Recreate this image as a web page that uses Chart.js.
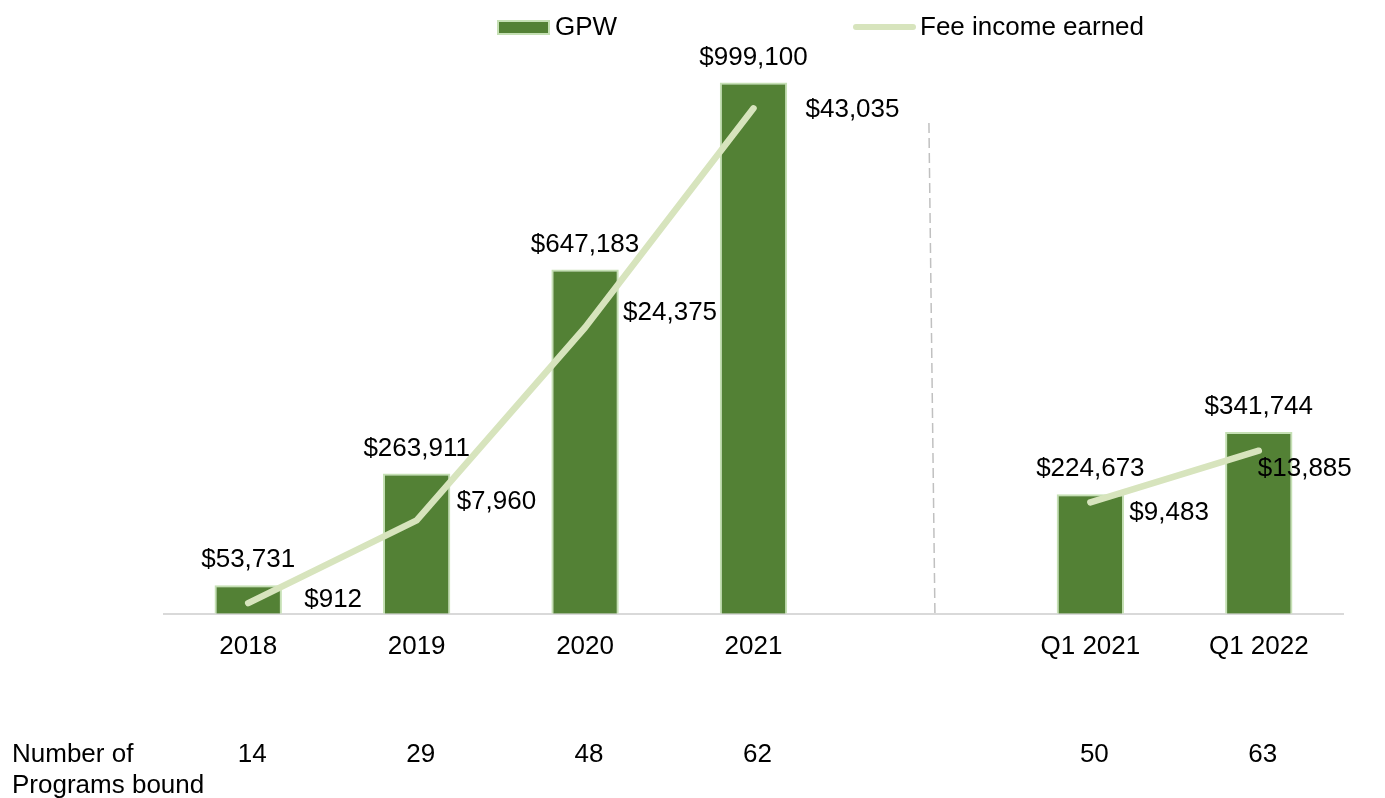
<!DOCTYPE html>
<html>
<head>
<meta charset="utf-8">
<script src="https://cdn.jsdelivr.net/npm/chart.js@4.4.1/dist/chart.umd.min.js"></script>
<style>
  html, body { margin: 0; padding: 0; background: #ffffff; }
  canvas { display: block; }
</style>
</head>
<body>
<canvas id="c" width="1385" height="798"></canvas>
<script>
// ---- data ----
const categories = ['2018', '2019', '2020', '2021', '', 'Q1 2021', 'Q1 2022'];
const gpwValues = [53731, 263911, 647183, 999100, null, 224673, 341744];
const feeIncome = [912, 7960, 24375, 43035, null, 9483, 13885];
const programsBound = ['14', '29', '48', '62', '', '50', '63'];
const rowTitle = ['Number of', 'Programs bound'];
const seriesNames = ['GPW', 'Fee income earned'];

const FONT = '"Liberation Sans", Arial, Helvetica, sans-serif';
const FS = 26;
const BAR_FILL = '#538135';
const BAR_EDGE = '#c5e0b4';
const LINE_COL = '#d7e4bd';

function money(v) { return '$' + v.toLocaleString('en-US'); }

const annotate = {
  id: 'annotate',
  afterDatasetsDraw(chart, args, opts) {
    const ctx = chart.ctx;
    const xs = chart.scales.x;
    const area = chart.chartArea;
    ctx.save();
    ctx.font = FS + 'px ' + FONT;
    ctx.fillStyle = '#000';

    // bar value labels
    const barMeta = chart.getDatasetMeta(0);
    ctx.textAlign = 'center';
    ctx.textBaseline = 'middle';
    barMeta.data.forEach((el, i) => {
      const v = gpwValues[i];
      if (v == null) return;
      ctx.fillText(money(v), el.x, el.y - 25);
    });

    // fee income labels
    const lineMeta = chart.getDatasetMeta(1);
    ctx.textAlign = 'left';
    lineMeta.data.forEach((el, i) => {
      const v = feeIncome[i];
      if (v == null) return;
      const off = opts.feeOffsets[i] || [40, 0];
      ctx.fillText(money(v), el.x + off[0], el.y + off[1]);
    });

    // dashed separator
    const gx = xs.getPixelForValue(4);
    ctx.strokeStyle = '#c0c0c0';
    ctx.lineWidth = 1.5;
    ctx.setLineDash([10, 5]);
    ctx.beginPath();
    ctx.moveTo(gx + 7, 123);
    ctx.lineTo(gx + 13, area.bottom);
    ctx.stroke();
    ctx.setLineDash([]);

    // legend
    ctx.fillStyle = BAR_FILL;
    ctx.fillRect(498, 21, 51, 13);
    ctx.strokeStyle = BAR_EDGE;
    ctx.lineWidth = 2;
    ctx.strokeRect(498, 21, 51, 13);
    ctx.fillStyle = '#000';
    ctx.textAlign = 'left';
    ctx.textBaseline = 'middle';
    ctx.fillText(chart.data.datasets[0].label, 555, 28);
    ctx.strokeStyle = LINE_COL;
    ctx.lineWidth = 6;
    ctx.lineCap = 'round';
    ctx.beginPath();
    ctx.moveTo(856, 27);
    ctx.lineTo(913, 27);
    ctx.stroke();
    ctx.fillText(chart.data.datasets[1].label, 920, 28);

    // programs bound row
    ctx.fillText(rowTitle[0], 12, 755);
    ctx.fillText(rowTitle[1], 12, 786);
    ctx.textAlign = 'center';
    programsBound.forEach((p, i) => {
      if (!p) return;
      ctx.fillText(p, xs.getPixelForValue(i) + 4, 755);
    });
    ctx.restore();
  }
};

new Chart(document.getElementById('c'), {
  data: {
    labels: categories,
    datasets: [
      {
        type: 'bar',
        label: seriesNames[0],
        data: gpwValues,
        yAxisID: 'y',
        backgroundColor: BAR_FILL,
        borderColor: BAR_EDGE,
        borderWidth: 2,
        barPercentage: 0.4,
        categoryPercentage: 1.0,
        order: 2
      },
      {
        type: 'line',
        label: seriesNames[1],
        data: feeIncome,
        yAxisID: 'y1',
        borderColor: LINE_COL,
        borderWidth: 6.5,
        borderCapStyle: 'round',
        borderJoinStyle: 'round',
        pointRadius: 0,
        tension: 0,
        spanGaps: false,
        order: 1
      }
    ]
  },
  options: {
    responsive: false,
    animation: false,
    layout: { padding: { left: 164, right: 42, top: 50, bottom: 119 } },
    plugins: {
      legend: { display: false },
      tooltip: { enabled: false },
      annotate: {
        feeOffsets: [[56, -3], [40, -18], [38, -15], [52, 2], null, [39, 10], [-1, 18]]
      }
    },
    scales: {
      x: {
        grid: { display: false, drawTicks: false },
        border: { display: true, color: '#d9d9d9', width: 2 },
        ticks: {
          font: { family: FONT, size: FS },
          color: '#000',
          padding: 17,
          maxRotation: 0,
          autoSkip: false
        }
      },
      y: { display: false, min: 0, max: 1060000 },
      y1: { display: false, min: 0, max: 48000, position: 'right' }
    }
  },
  plugins: [annotate]
});
</script>
</body>
</html>
